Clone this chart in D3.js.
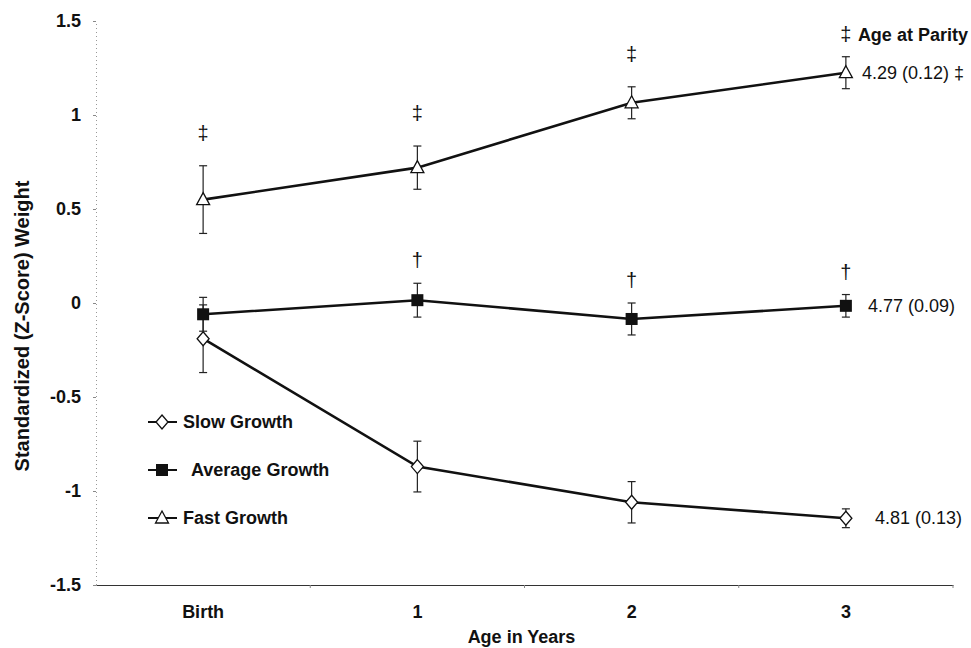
<!DOCTYPE html>
<html>
<head>
<meta charset="utf-8">
<script src="https://cdn.jsdelivr.net/npm/d3@7"></script>
<style>
  body { margin: 0; background: #fff; }
  text { font-family: "Liberation Sans", Arial, sans-serif; fill: #111; }
</style>
</head>
<body>
<div id="chart"></div>
<script>
// data
var ages = ["Birth", "1", "2", "3"];
var slowMean = [-0.19, -0.87, -1.06, -1.145];
var slowErr = [0.18, 0.135, 0.11, 0.05];
var avgMean = [-0.06, 0.015, -0.085, -0.015];
var avgErr = [0.09, 0.09, 0.085, 0.06];
var fastMean = [0.55, 0.72, 1.065, 1.225];
var fastErr = [0.18, 0.115, 0.085, 0.085];
var yTicks = [-1.5, -1, -0.5, 0, 0.5, 1, 1.5];
var fastMarks = ["‡", "‡", "‡", "‡"];
var avgMarks = ["", "†", "†", "†"];
var parityLabels = ["4.81 (0.13)", "4.77 (0.09)", "4.29 (0.12) ‡"];

var svgWidth = 971, svgHeight = 648;
var margin = { top: 21, right: 18, bottom: 63, left: 96 };
var chartWidth = svgWidth - margin.left - margin.right;
var chartHeight = svgHeight - margin.top - margin.bottom;

var svg = d3.select("#chart").append("svg")
  .attr("width", svgWidth)
  .attr("height", svgHeight);

var g = svg.append("g")
  .attr("transform", `translate(${margin.left}, ${margin.top})`);

var xScale = d3.scaleBand().domain(ages).range([0, chartWidth]);
var yScale = d3.scaleLinear().domain([-1.5, 1.5]).range([chartHeight, 0]);
var cx = d => xScale(d) + xScale.bandwidth() / 2;

// y axis (faint dotted)
var leftAxis = d3.axisLeft(yScale).tickValues(yTicks).tickSize(3).tickPadding(12)
  .tickFormat(d => d);
var yAx = g.append("g").call(leftAxis);
yAx.select(".domain").attr("stroke", "#999").attr("stroke-dasharray", "1,3");
yAx.selectAll(".tick line").attr("stroke", "#888");
yAx.selectAll(".tick text").style("font-size", "18px").style("font-weight", "bold")
  .style("font-family", "Liberation Sans, Arial, sans-serif").attr("fill", "#111");

// x axis along -1.5
var bottomAxis = d3.axisBottom(xScale).tickSize(0).tickPadding(20);
var xAx = g.append("g").attr("transform", `translate(0, ${chartHeight})`).call(bottomAxis);
xAx.select(".domain").attr("stroke", "#333").attr("stroke-width", 1);
xAx.selectAll(".tick text").style("font-size", "18px").style("font-weight", "bold")
  .style("font-family", "Liberation Sans, Arial, sans-serif").attr("fill", "#111");
// small ticks between categories
g.selectAll(".sep").data(ages.slice(1).concat(["end"])).enter().append("line")
  .attr("x1", (d, i) => xScale.step() * (i + 1))
  .attr("x2", (d, i) => xScale.step() * (i + 1))
  .attr("y1", chartHeight).attr("y2", chartHeight + 3)
  .attr("stroke", "#888");

// axis titles
svg.append("text")
  .attr("transform", "translate(29, 326) rotate(-90)")
  .attr("text-anchor", "middle")
  .style("font-size", "20px").style("font-weight", "bold")
  .text("Standardized (Z-Score) Weight");
svg.append("text")
  .attr("x", margin.left + chartWidth / 2 - 3).attr("y", 643)
  .attr("text-anchor", "middle")
  .style("font-size", "18px").style("font-weight", "bold")
  .text("Age in Years");

var series = [
  { name: "Slow Growth", mean: slowMean, err: slowErr, shape: "diamond" },
  { name: "Average Growth", mean: avgMean, err: avgErr, shape: "square" },
  { name: "Fast Growth", mean: fastMean, err: fastErr, shape: "triangle" }
];

function drawMarker(sel, shape) {
  if (shape === "square") {
    sel.append("rect").attr("x", -6).attr("y", -6).attr("width", 12).attr("height", 12)
      .attr("fill", "#111");
  } else if (shape === "diamond") {
    sel.append("path").attr("d", "M0,-7L6,0L0,7L-6,0Z")
      .attr("fill", "#fff").attr("stroke", "#111").attr("stroke-width", 1.3);
  } else {
    sel.append("path").attr("d", "M0,-7L6.5,5L-6.5,5Z")
      .attr("fill", "#fff").attr("stroke", "#111").attr("stroke-width", 1.3);
  }
}

var line = d3.line().x((d, i) => cx(ages[i])).y(d => yScale(d));

series.forEach(function (s) {
  var sg = g.append("g");
  // error bars
  ages.forEach(function (a, i) {
    var x = cx(a);
    var y1 = yScale(s.mean[i] + s.err[i]);
    var y2 = yScale(s.mean[i] - s.err[i]);
    sg.append("line").attr("x1", x).attr("x2", x).attr("y1", y1).attr("y2", y2)
      .attr("stroke", "#222").attr("stroke-width", 1.2);
    [y1, y2].forEach(function (y) {
      sg.append("line").attr("x1", x - 4).attr("x2", x + 4).attr("y1", y).attr("y2", y)
        .attr("stroke", "#222").attr("stroke-width", 1.2);
    });
  });
  sg.append("path").datum(s.mean).attr("d", line)
    .attr("fill", "none").attr("stroke", "#111").attr("stroke-width", 2.6);
  ages.forEach(function (a, i) {
    var m = sg.append("g").attr("transform", `translate(${cx(a)}, ${yScale(s.mean[i])})`);
    drawMarker(m, s.shape);
  });
});

// significance marks
g.selectAll(".fm").data(fastMarks).enter().append("text")
  .attr("x", (d, i) => cx(ages[i]))
  .attr("y", (d, i) => i === 3 ? 20 : yScale(fastMean[i] + fastErr[i]) - 26)
  .attr("text-anchor", "middle").style("font-size", "20px").text(d => d);
g.selectAll(".am").data(avgMarks).enter().append("text")
  .attr("x", (d, i) => cx(ages[i]))
  .attr("y", (d, i) => yScale(avgMean[i] + avgErr[i]) - 16)
  .attr("text-anchor", "middle").style("font-size", "20px").text(d => d);

// age at parity labels
var lastX = cx(ages[3]);
g.append("text").attr("x", lastX + 12).attr("y", 20)
  .style("font-size", "18px").style("font-weight", "bold").text("Age at Parity");
[slowMean, avgMean, fastMean].forEach(function (m, k) {
  var off = [29, 22, 16][k];
  g.append("text").attr("x", lastX + off).attr("y", yScale(m[3]) + 6)
    .style("font-size", "18px").text(parityLabels[k]);
});

// legend
var legY = [422, 470, 518];
series.forEach(function (s, k) {
  var lg = svg.append("g").attr("transform", `translate(148, ${legY[k]})`);
  lg.append("line").attr("x1", 0).attr("x2", 29).attr("y1", 0).attr("y2", 0)
    .attr("stroke", "#111").attr("stroke-width", 2);
  var m = lg.append("g").attr("transform", "translate(14, 0)");
  drawMarker(m, s.shape);
  lg.append("text").attr("x", k === 1 ? 43 : 35).attr("y", 6)
    .style("font-size", "18px").style("font-weight", "bold").text(s.name);
});
</script>
</body>
</html>
